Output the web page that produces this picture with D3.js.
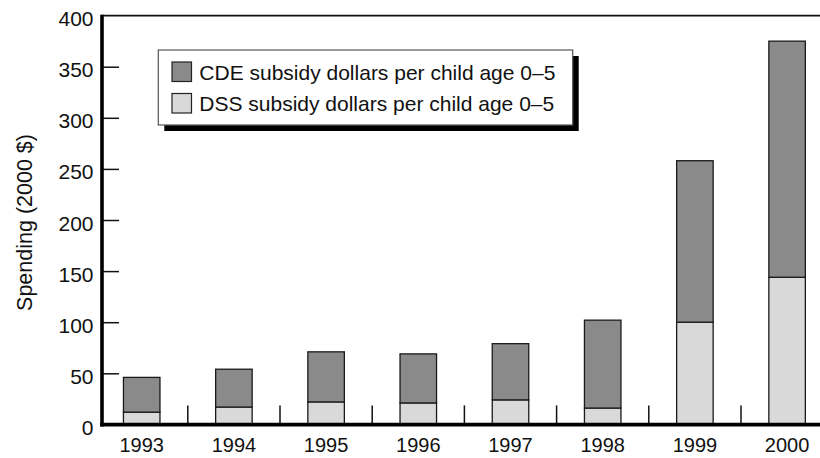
<!DOCTYPE html>
<html>
<head>
<meta charset="utf-8">
<script src="https://cdn.jsdelivr.net/npm/d3@7"></script>
<style>
  html, body { margin: 0; padding: 0; background: #fff; }
  svg { display: block; font-family: "Liberation Sans", Arial, Helvetica, sans-serif; }
</style>
</head>
<body>
<svg id="chart" width="820" height="458"></svg>
<script>
// Child-care subsidy spending per child age 0–5, in 2000 dollars
const years = ["1993", "1994", "1995", "1996", "1997", "1998", "1999", "2000"];
const dssValues = [12, 17, 22, 21, 24, 16, 100, 144];
const cdeValues = [34, 37, 49, 48, 55, 86, 158, 231];
const yTicks = [0, 50, 100, 150, 200, 250, 300, 350, 400];
const seriesNames = ["CDE subsidy dollars per child age 0–5", "DSS subsidy dollars per child age 0–5"];
const seriesKeys = ["cde", "dss"];
const seriesColors = { cde: "#8a8a8a", dss: "#d9d9d9" };

const rows = years.map((y, i) => ({ year: y, dss: dssValues[i], cde: cdeValues[i] }));
const stacked = d3.stack().keys(["dss", "cde"])(rows);

const svg = d3.select("#chart");

const x = d3.scaleBand().domain(years).range([95.6, 833.2]).paddingInner(0.604).paddingOuter(0.302);
const y = d3.scaleLinear().domain([0, 400]).range([424.4, 15.6]);

// Bars
svg.append("g").selectAll("g")
  .data(stacked)
  .join("g")
  .attr("fill", d => seriesColors[d.key])
  .selectAll("rect")
  .data(d => d)
  .join("rect")
  .attr("x", d => x(d.data.year))
  .attr("width", x.bandwidth())
  .attr("y", d => y(d[1]))
  .attr("height", d => y(d[0]) - y(d[1]))
  .attr("stroke", "#1a1a1a")
  .attr("stroke-width", 1.3);

// Category separators on the baseline
const boundary = d => x(d) - x.step() * x.paddingOuter() + x.step();
svg.append("g").selectAll("line")
  .data(years.slice(0, -1))
  .join("line")
  .attr("x1", boundary)
  .attr("x2", boundary)
  .attr("y1", y(0))
  .attr("y2", y(0) - 19)
  .attr("stroke", "#111")
  .attr("stroke-width", 1.5);

// Y axis ticks pointing into the plot
const yAxis = d3.axisRight(y).tickValues(yTicks.filter(v => v > 0 && v < 400)).tickSize(17).tickFormat("");
const yg = svg.append("g").attr("transform", "translate(102,0)").call(yAxis);
yg.select(".domain").remove();
yg.selectAll(".tick line").attr("stroke", "#111").attr("stroke-width", 1.5);

// Y tick labels
svg.append("g").selectAll("text")
  .data(yTicks)
  .join("text")
  .attr("x", 93.5)
  .attr("y", d => y(d) + 10.5)
  .attr("text-anchor", "end")
  .attr("font-size", 21)
  .attr("fill", "#111")
  .text(d => d);

// Frame: top rule, left axis, baseline
svg.append("line").attr("x1", 101).attr("x2", 820).attr("y1", y(400)).attr("y2", y(400))
  .attr("stroke", "#111").attr("stroke-width", 1.6);
svg.append("line").attr("x1", 102).attr("x2", 102).attr("y1", y(400) - 0.8).attr("y2", y(0) + 2)
  .attr("stroke", "#000").attr("stroke-width", 3.6);
svg.append("line").attr("x1", 100.2).attr("x2", 820).attr("y1", y(0) + 0.3).attr("y2", y(0) + 0.3)
  .attr("stroke", "#000").attr("stroke-width", 3.8);

// X axis labels
svg.append("g").selectAll("text")
  .data(years)
  .join("text")
  .attr("x", d => x(d) + x.bandwidth() / 2)
  .attr("y", 451.7)
  .attr("text-anchor", "middle")
  .attr("font-size", 20)
  .attr("fill", "#111")
  .text(d => d);

// Y axis title
svg.append("text")
  .attr("transform", "translate(31.5,222.5) rotate(-90)")
  .attr("text-anchor", "middle")
  .attr("font-size", 21.5)
  .attr("fill", "#111")
  .text("Spending (2000 $)");

// Legend with drop shadow
const legend = svg.append("g");
legend.append("rect").attr("x", 164.3).attr("y", 56).attr("width", 414.4).attr("height", 75).attr("fill", "#000");
legend.append("rect").attr("x", 158.3).attr("y", 50).attr("width", 414.4).attr("height", 75)
  .attr("fill", "#fff").attr("stroke", "#555").attr("stroke-width", 1.2);
const items = legend.selectAll("g.item")
  .data(seriesKeys)
  .join("g")
  .attr("class", "item")
  .attr("transform", (d, i) => `translate(0,${i * 31.5})`);
items.append("rect").attr("x", 172).attr("y", 62).attr("width", 19.5).attr("height", 19.5)
  .attr("fill", d => seriesColors[d]).attr("stroke", "#222").attr("stroke-width", 1.2);
items.append("text").attr("x", 199.3).attr("y", 79.5)
  .attr("font-size", 21).attr("fill", "#111")
  .text((d, i) => seriesNames[i]);
</script>
</body>
</html>
